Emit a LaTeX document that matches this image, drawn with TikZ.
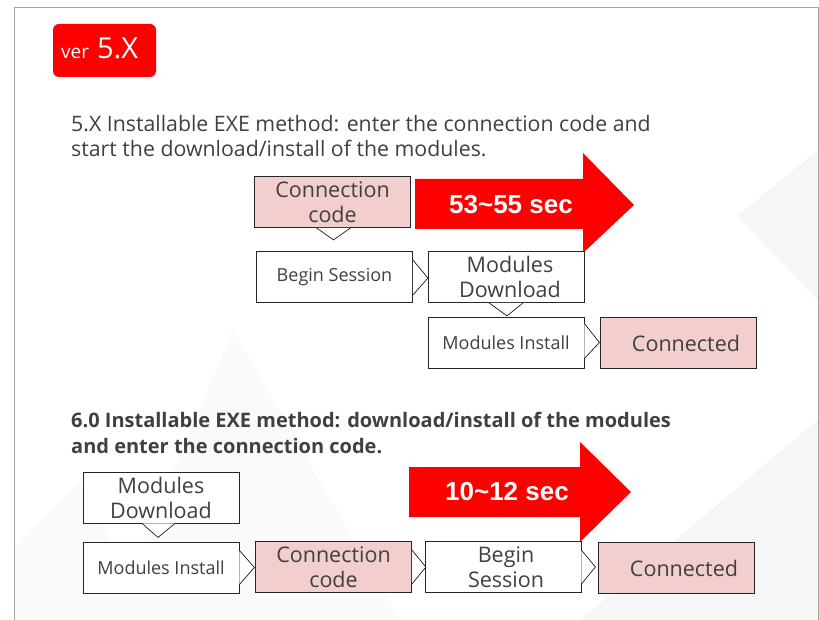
\documentclass[tikz,border=0pt]{standalone}
\usepackage{fontspec}
\setmainfont{Open Sans}
\newfontfamily\arialfont{Liberation Sans}
\usetikzlibrary{calc}

\definecolor{slidered}{RGB}{255,0,0}
\definecolor{boxpink}{RGB}{242,206,206}
\definecolor{textgray}{RGB}{64,64,64}
\definecolor{bgray}{RGB}{246,246,246}

\tikzset{
  stepnode/.style={draw=black!85, line width=0.8pt, fill=white, text=textgray,
    minimum width=156, minimum height=51, align=center, inner sep=0pt,
    font=\fontsize{21.5}{25}\selectfont},
  pinknode/.style={stepnode, fill=boxpink},
  smallnode/.style={font=\fontsize{18}{22}\selectfont},
  chevron/.style={draw=black, line width=0.6pt, fill=white},
  timearrow/.style={fill=slidered},
  timelabel/.style={text=white, font=\arialfont\bfseries\fontsize{26}{30}\selectfont}
}

\begin{document}
\begin{tikzpicture}[x=1pt, y=-1pt]
  \useasboundingbox (0,0) rectangle (819,620);
  \fill[white] (0,0) rectangle (819,620);

  % faint background shapes
  \fill[bgray] (737,216) -- (818,150) -- (818,300) -- cycle;
  \fill[bgray] (580,620) -- (818,420) -- (818,620) -- cycle;
  \fill[bgray!50] (110,620) -- (233,330) -- (400,620) -- cycle;
  \fill[bgray!50] (14,550) -- (80,480) -- (150,620) -- (14,620) -- cycle;

  % slide frame
  \draw[black!35, line width=1pt] (14,620) -- (14,8) -- (818,8) -- (818,620);

  % version badge
  \fill[slidered, rounded corners=6pt] (53,24) rectangle (156,77);
  \node[text=white, anchor=base west, inner sep=0pt] (ver) at (61,59)
    {{\fontsize{19}{20}\selectfont ver}\hspace{8pt}{\fontsize{29}{30}\selectfont 5.X}};

  % 5.X method
  \node[anchor=north west, align=left, text=textgray, inner sep=0pt,
        font=\fontsize{21.3}{25}\selectfont] (title1) at (71,115)
    {5.X Installable EXE method: enter the connection code and\\
     start the download/install of the modules.};

  \fill[timearrow] (415,179) -- (583,179) -- (583,153) -- (634,205)
    -- (583,253) -- (583,229) -- (415,229) -- cycle;
  \node[timelabel] (time1) at (511,205) {53\char`~55 sec};

  \node[pinknode] (code1) at (332.5,202) {Connection\\code};
  \node[stepnode, smallnode] (begin1) at (334.5,277) {Begin Session};
  \node[stepnode] (down1) at (506,277) {\hspace*{8pt}Modules\\\hspace*{8pt}Download};
  \node[stepnode, smallnode] (inst1) at (506,342.5) {Modules Install};
  \node[pinknode] (conn1) at (678,343) {\hspace*{16pt}Connected};

  \draw[chevron] ($(code1.south)+(-16,0)$) -- ($(code1.south)+(1,12)$) -- ($(code1.south)+(18,0)$);
  \draw[chevron] ($(begin1.east)+(0,-17)$) -- ($(begin1.east)+(15,1)$) -- ($(begin1.east)+(0,18)$);
  \draw[chevron] ($(down1.south)+(-17,0)$) -- ($(down1.south)+(1,13)$) -- ($(down1.south)+(17,0)$);
  \draw[chevron] ($(inst1.east)+(0,-19)$) -- ($(inst1.east)+(15,0)$) -- ($(inst1.east)+(0,16)$);

  % 6.0 method
  \node[anchor=north west, align=left, text=textgray, inner sep=0pt,
        font=\bfseries\fontsize{20}{26}\selectfont] (title2) at (71,412)
    {6.0 Installable EXE method: download/install of the modules\\
     and enter the connection code.};

  \fill[timearrow] (409,467) -- (580,467) -- (580,442) -- (631,492)
    -- (580,542) -- (580,517) -- (409,517) -- cycle;
  \node[timelabel] (time2) at (507,492) {10\char`~12 sec};

  \node[stepnode] (down2) at (161,497.5) {Modules\\Download};
  \node[stepnode, smallnode] (inst2) at (161,567.5) {Modules Install};
  \node[pinknode] (code2) at (333.5,567) {Connection\\code};
  \node[stepnode] (begin2) at (503,567) {\hspace*{6pt}Begin\\\hspace*{6pt}Session};
  \node[pinknode] (conn2) at (676,568) {\hspace*{16pt}Connected};

  \draw[chevron] ($(down2.south)+(-19,0)$) -- ($(down2.south)+(-3,14)$) -- ($(down2.south)+(14,0)$);
  \draw[chevron] ($(inst2.east)+(0,-17)$) -- ($(inst2.east)+(15,0)$) -- ($(inst2.east)+(0,17)$);
  \draw[chevron] ($(code2.east)+(0,-17)$) -- ($(code2.east)+(14,0)$) -- ($(code2.east)+(0,17)$);
  \draw[chevron] ($(begin2.east)+(0,-17)$) -- ($(begin2.east)+(14,0)$) -- ($(begin2.east)+(0,17)$);
\end{tikzpicture}
\end{document}
